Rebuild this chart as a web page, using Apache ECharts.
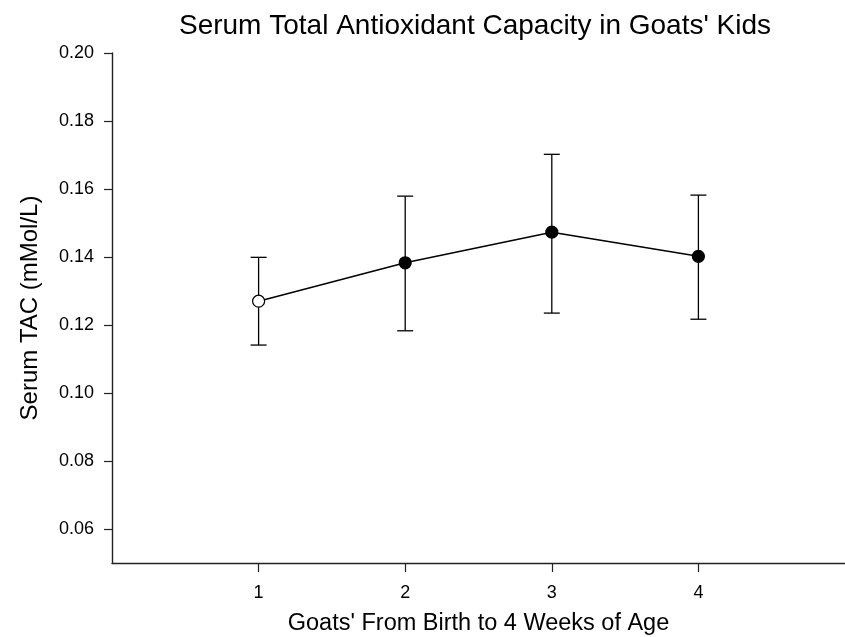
<!DOCTYPE html>
<html>
<head>
<meta charset="utf-8">
<script src="https://cdn.jsdelivr.net/npm/echarts@6/dist/echarts.min.js"></script>
<style>
  html, body { margin: 0; padding: 0; background: #fff; }
  #main { width: 845px; height: 637px; }
</style>
</head>
<body>
<div id="main"></div>
<script>
// data
var weeks = [1, 2, 3, 4]
var tacMean = [0.1270, 0.1383, 0.1473, 0.1402]
var tacUpper = [0.1399, 0.1579, 0.1702, 0.1582]
var tacLower = [0.1141, 0.1183, 0.1235, 0.1217]
var yTicks = [0.06, 0.08, 0.10, 0.12, 0.14, 0.16, 0.18, 0.20]
var xTicks = [1, 2, 3, 4]

var font = 'Liberation Sans, Arial, sans-serif'

var myChart = echarts.init(document.getElementById('main'))

var linePoints = weeks.map(function (w, i) { return [w, tacMean[i]] })
var barPoints = weeks.map(function (w, i) { return [w, tacLower[i], tacUpper[i]] })

var option = {
  animation: false,
  backgroundColor: '#fff',
  title: {
    text: "Serum Total Antioxidant Capacity in Goats' Kids",
    left: 470,
    top: 7,
    textAlign: 'center',
    textStyle: { fontFamily: font, fontSize: 28, fontWeight: 'normal', color: '#000' }
  },
  grid: { left: 112, top: 53, right: 0, bottom: 74, containLabel: false, outerBoundsMode: 'none' },
  xAxis: {
    type: 'value',
    min: 0,
    max: 5,
    name: "Goats' From Birth to 4 Weeks of Age",
    nameLocation: 'middle',
    nameGap: 49,
    nameTextStyle: { fontFamily: font, fontSize: 23.5, color: '#000' },
    axisLine: { lineStyle: { color: '#222', width: 1.4 } },
    axisTick: { show: true, length: 9, customValues: xTicks, lineStyle: { color: '#222', width: 1.2 } },
    axisLabel: { customValues: xTicks, margin: 21, fontFamily: font, fontSize: 18, color: '#000' },
    splitLine: { show: false }
  },
  yAxis: {
    type: 'value',
    min: 0.05,
    max: 0.20,
    name: 'Serum TAC (mMol/L)',
    nameLocation: 'middle',
    nameGap: 70,
    nameTextStyle: { fontFamily: font, fontSize: 24, color: '#000' },
    axisLine: { show: true, lineStyle: { color: '#222', width: 1.4 } },
    axisTick: { show: true, length: 8, customValues: yTicks, lineStyle: { color: '#222', width: 1.2 } },
    axisLabel: {
      customValues: yTicks, margin: 18, fontFamily: font, fontSize: 18, color: '#000',
      formatter: function (v) { return v.toFixed(2) }
    },
    splitLine: { show: false }
  },
  series: [
    {
      // error bars
      type: 'custom',
      z: 1,
      data: barPoints,
      renderItem: function (params, api) {
        var x = api.value(0)
        var lo = api.coord([x, api.value(1)])
        var hi = api.coord([x, api.value(2)])
        var cap = 8
        var st = { stroke: '#000', lineWidth: 1.3 }
        return {
          type: 'group',
          children: [
            { type: 'line', shape: { x1: lo[0], y1: lo[1], x2: hi[0], y2: hi[1] }, style: st },
            { type: 'line', shape: { x1: lo[0] - cap, y1: lo[1], x2: lo[0] + cap, y2: lo[1] }, style: st },
            { type: 'line', shape: { x1: hi[0] - cap, y1: hi[1], x2: hi[0] + cap, y2: hi[1] }, style: st }
          ]
        }
      }
    },
    {
      type: 'line',
      z: 3,
      data: linePoints,
      symbol: 'circle',
      symbolSize: 12,
      lineStyle: { color: '#000', width: 1.5 },
      itemStyle: {
        color: function (p) { return p.dataIndex === 0 ? '#fff' : '#000' },
        borderColor: '#000',
        borderWidth: 1.2
      }
    }
  ]
}

myChart.setOption(option)
</script>
</body>
</html>
